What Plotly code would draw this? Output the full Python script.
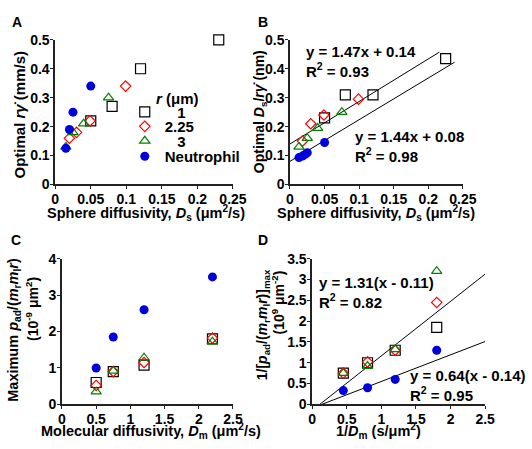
import plotly.graph_objects as go
import numpy as np

# ---- Panel A data ----
a_sq_x = [0.05, 0.08, 0.12, 0.23]
a_sq_y = [0.22, 0.27, 0.40, 0.50]
a_di_x = [0.02, 0.03, 0.049, 0.099]
a_di_y = [0.16, 0.18, 0.22, 0.34]
a_tr_x = [0.015, 0.025, 0.04, 0.075]
a_tr_y = [0.13, 0.18, 0.21, 0.30]
a_ci_x = [0.015, 0.02, 0.025, 0.05]
a_ci_y = [0.125, 0.19, 0.25, 0.34]

# ---- Panel B data ----
b_sq_x = [0.05, 0.08, 0.12, 0.225]
b_sq_y = [0.23, 0.31, 0.31, 0.435]
b_di_x = [0.018, 0.03, 0.049, 0.099]
b_di_y = [0.15, 0.21, 0.24, 0.295]
b_tr_x = [0.013, 0.025, 0.04, 0.075]
b_tr_y = [0.13, 0.16, 0.195, 0.25]
b_ci_x = [0.013, 0.018, 0.022, 0.025, 0.05]
b_ci_y = [0.093, 0.098, 0.104, 0.11, 0.145]
b_fit_upper = [1.47, 0.14]   # slope, intercept
b_fit_lower = [1.44, 0.08]
b_fit_upper_x = [0.0, 0.216]
b_fit_lower_x = [0.0, 0.238]

# ---- Panel C data ----
c_x = [0.5, 0.75, 1.2, 2.2]
c_sq_y = [0.6, 0.9, 1.08, 1.8]
c_di_y = [0.52, 0.9, 1.15, 1.82]
c_tr_y = [0.35, 0.92, 1.28, 1.72]
c_ci_y = [1.0, 1.85, 2.6, 3.5]

# ---- Panel D data ----
d_x = [0.45, 0.8, 1.2, 1.8]
d_sq_y = [0.75, 1.0, 1.3, 1.85]
d_di_y = [0.75, 1.02, 1.3, 2.45]
d_tr_y = [0.75, 0.92, 1.32, 3.2]
d_ci_y = [0.33, 0.4, 0.6, 1.3]
d_fit_upper = [1.31, 0.11]   # slope, x-offset
d_fit_lower = [0.64, 0.14]
d_fit_x_end = 2.5

legend_names = ["\u00a0\u00a0\u00a01", "2.25", "\u00a0\u00a0\u00a03", "Neutrophil"]

FONT = "Arial, 'Liberation Sans', sans-serif"
W, H = 532, 449

sq = dict(symbol="square-open", size=10, color="black", line=dict(width=1.2))
di = dict(symbol="diamond-open", size=8, color="red", line=dict(width=1.2))
tr = dict(symbol="triangle-up-open", size=9, color="green", line=dict(width=1.2))
ci = dict(symbol="circle", size=9, color="#0000dd")

fig = go.Figure()

def add(x, y, marker, xa, ya, name=None, legend=None):
    fig.add_trace(go.Scatter(x=x, y=y, mode="markers", marker=marker,
                             xaxis=xa, yaxis=ya, name=name,
                             showlegend=legend is not None,
                             legend=legend if legend else "legend",
                             cliponaxis=False, hoverinfo="skip"))

# A
add(a_sq_x, a_sq_y, sq, "x", "y", legend_names[0], "legend")
add(a_di_x, a_di_y, di, "x", "y", legend_names[1], "legend2")
add(a_tr_x, a_tr_y, tr, "x", "y", legend_names[2], "legend3")
add(a_ci_x, a_ci_y, ci, "x", "y", legend_names[3], "legend4")

# B lines
for coef, xr in [(b_fit_upper, b_fit_upper_x), (b_fit_lower, b_fit_lower_x)]:
    xs = np.array(xr)
    fig.add_trace(go.Scatter(x=xs, y=coef[0] * xs + coef[1], mode="lines",
                             line=dict(color="black", width=1), xaxis="x2", yaxis="y2",
                             showlegend=False, cliponaxis=False, hoverinfo="skip"))
add(b_sq_x, b_sq_y, sq, "x2", "y2")
add(b_di_x, b_di_y, di, "x2", "y2")
add(b_tr_x, b_tr_y, tr, "x2", "y2")
add(b_ci_x, b_ci_y, ci, "x2", "y2")

# C
add(c_x, c_ci_y, ci, "x3", "y3")
add(c_x, c_sq_y, sq, "x3", "y3")
add(c_x, c_di_y, di, "x3", "y3")
add(c_x, c_tr_y, tr, "x3", "y3")

# D lines
for coef in [d_fit_upper, d_fit_lower]:
    xs = np.array([coef[1], d_fit_x_end])
    fig.add_trace(go.Scatter(x=xs, y=coef[0] * (xs - coef[1]), mode="lines",
                             line=dict(color="black", width=1), xaxis="x4", yaxis="y4",
                             showlegend=False, cliponaxis=False, hoverinfo="skip"))
add(d_x, d_sq_y, sq, "x4", "y4")
add(d_x, d_di_y, di, "x4", "y4")
add(d_x, d_tr_y, tr, "x4", "y4")
add(d_x, d_ci_y, ci, "x4", "y4")

def dom(x0, x1, y0, y1):
    return [x0 / W, x1 / W], [1 - y1 / H, 1 - y0 / H]

tickf = dict(family=FONT, size=14, color="black", weight="bold")

def axis(domain, rng, dtick, anchor):
    return dict(domain=domain, range=rng, dtick=dtick, tick0=0, showgrid=False,
                zeroline=False, showline=True, linecolor="#222", linewidth=1.5,
                ticks="outside", ticklen=3, tickwidth=1.2, tickcolor="#222",
                tickfont=tickf, anchor=anchor, ticklabelstandoff=-2)

axA, ayA = dom(53, 237, 33, 183)
axB, ayB = dom(296, 475, 33, 183)
axC, ayC = dom(60, 237, 260, 411)
axD, ayD = dom(319, 498, 260, 411)

def leg(yc):
    return dict(x=125 / W, y=1 - yc / H, xanchor="left", yanchor="middle",
                bgcolor="rgba(0,0,0,0)", borderwidth=0,
                font=dict(family=FONT, size=15, color="black", weight="bold"),
                itemwidth=30)

fig.update_layout(
    width=W, height=H, margin=dict(l=0, r=0, t=0, b=0),
    paper_bgcolor="white", plot_bgcolor="white",
    font=dict(family=FONT, size=14, color="black", weight="bold"),
    xaxis=axis(axA, [0, 0.25], 0.05, "y"),
    yaxis=axis(ayA, [0, 0.5], 0.1, "x"),
    xaxis2=axis(axB, [0, 0.25], 0.05, "y2"),
    yaxis2=axis(ayB, [0, 0.5], 0.1, "x2"),
    xaxis3=axis(axC, [0, 2.5], 0.5, "y3"),
    yaxis3=axis(ayC, [0, 4], 1, "x3"),
    xaxis4=axis(axD, [0, 2.5], 0.5, "y4"),
    yaxis4=axis(ayD, [0, 3.5], 0.5, "x4"),
    legend=leg(108), legend2=leg(123), legend3=leg(138), legend4=leg(154),
)

def text(t, xc, yc, size=15, angle=0, xanchor="center", yanchor="middle"):
    fig.add_annotation(text=t, x=xc / W, y=1 - yc / H, xref="paper", yref="paper",
                       xanchor=xanchor, yanchor=yanchor, showarrow=False,
                       textangle=angle, align="left",
                       font=dict(family=FONT, size=size, color="black", weight="bold"))

# panel letters
text("A", 13, 15, size=14)
text("B", 268, 15, size=14)
text("C", 12, 241, size=14)
text("D", 268, 241, size=14)

# legend title
text("<i>r</i> (μm)", 180, 94)

# axis titles
xt_s = "Sphere diffusivity, <i>D</i><sub>s</sub> (μm<sup>2</sup>/s)"
text(xt_s, 147, 213, size=14.5)
text(xt_s, 385, 213, size=14.5)
text("Molecular diffusivity, <i>D</i><sub>m</sub> (μm<sup>2</sup>/s)", 152, 439, size=14.5)
text("1/<i>D</i><sub>m</sub> (s/μm<sup>2</sup>)", 388, 439, size=14.5)
text("Optimal <i>rγ̇</i> (mm/s)", 16, 110, angle=-90)
text("Optimal <i>D</i><sub>s</sub>/<i>rγ̇</i> (nm)", 265, 108, angle=-90, size=14)
text("Maximum <i>p</i><sub>ad</sub>/(<i>m</i><sub>r</sub><i>m</i><sub>l</sub><i>r</i>)", 10, 334, angle=-90, size=14.5)
text("(10<sup>-9</sup> μm<sup>2</sup>)", 29, 312, angle=-90, size=14)
text("1/[<i>p</i><sub>ad</sub>/(<i>m</i><sub>r</sub><i>m</i><sub>l</sub><i>r</i>)]<sub>max</sub>", 268, 328, angle=-90, size=14)
text("(10<sup>9</sup> μm<sup>-2</sup>)", 284, 305, angle=-90, size=14)

# fit equations
text("y = 1.47x + 0.14<br>R<sup>2</sup> = 0.93", 311, 55, xanchor="left")
text("y = 1.44x + 0.08<br>R<sup>2</sup> = 0.98", 361, 144, xanchor="left")
text("y = 1.31(x - 0.11)<br>R<sup>2</sup> = 0.82", 324, 295, xanchor="left")
text("y = 0.64(x - 0.14)<br>R<sup>2</sup> = 0.95", 418, 391, xanchor="left")

fig.write_html("out.html", config={"displayModeBar": False},
               post_script="document.body.style.margin='0';")
